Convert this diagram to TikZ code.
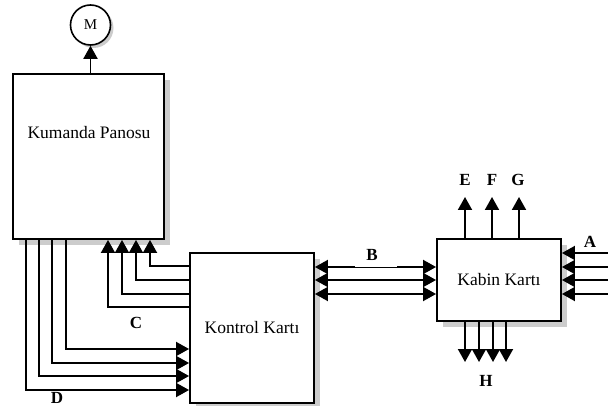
\documentclass[tikz,border=0pt]{standalone}
\usepackage{fontspec}
\setmainfont{Liberation Serif}
\usetikzlibrary{arrows.meta}
\tikzset{tri/.tip={Triangle[length=13pt,width=14pt]}}
\begin{document}
\begin{tikzpicture}[x=1pt,y=-1pt,
  box/.style={draw,line width=1.9pt,fill=white,inner sep=0pt,font=\fontsize{17.5}{20}\selectfont},
  shade/.style={fill=gray!40,draw=none},
  wire/.style={line width=1.9pt},
  lbl/.style={font=\fontsize{17}{20}\selectfont\bfseries,inner sep=0pt}]
\useasboundingbox (0,0) rectangle (608,406);
% shadows
\fill[shade] (19,80) rectangle (170,245);
\fill[shade] (196,259) rectangle (320,409);
\fill[shade] (443,245) rectangle (567,327);
\fill[shade] (93.5,28) circle (20pt);
% boxes
\node[box,minimum width=151pt,minimum height=165pt] (kp) at (88.5,156.5) {};
\node[font=\fontsize{17.5}{20}\selectfont] (kpt) at (89,133) {Kumanda Panosu};
\node[box,minimum width=124pt,minimum height=150pt] (kk) at (252,328) {Kontrol Kartı};
\node[box,minimum width=124pt,minimum height=82pt] (kb) at (499,280) {Kabin Kartı};
\node[draw,circle,line width=1.6pt,fill=white,minimum size=40pt,inner sep=0pt,font=\fontsize{15}{17}\selectfont] (m) at (90.5,25) {M};
% motor
\draw[wire,-tri] (kp.north -| m.south) -- (m.south);
% D
\foreach \dx/\yy in {14/390,27/376,40/363,54/349}
  \draw[wire,-tri] ([xshift=\dx pt]kp.south west) |- (kk.west |- 0,\yy);
% C
\foreach \yy/\xx in {266/150,280/136,294/122,307/108}
  \draw[wire,-tri] (kk.west |- 0,\yy) -| (\xx,0 |- kp.south);
% B
\foreach \yy in {267,280,294}
  \draw[wire,tri-tri] (kk.east |- 0,\yy) -- (kb.west |- 0,\yy);
\draw[white,line width=2.1pt] (355,267) -- (397,267);
\draw[line width=0.7pt] (355,267.6) -- (397,267.6);
% A
\foreach \i/\yy in {1/253,2/267,3/280,4/294}{
  \coordinate (a\i) at (608,\yy);
  \draw[wire,-tri] (a\i) -- (kb.east |- a\i);
}
% E F G
\foreach \xx in {465,492,519}
  \draw[wire,-tri] (\xx,0 |- kb.north) -- (\xx,197);
% H
\foreach \xx in {465,479,493,506}
  \draw[wire,-tri] (\xx,0 |- kb.south) -- (\xx,362);
% labels
\node[lbl] (le) at (465,180) {E};
\node[lbl] (lf) at (492,180) {F};
\node[lbl] (lg) at (518,180) {G};
\node[lbl] (lh) at (486,381) {H};
\node[lbl] (la) at (590,242) {A};
\node[lbl] (lb) at (372,255) {B};
\node[lbl] (lc) at (136,323) {C};
\node[lbl] (ld) at (57,398) {D};
\end{tikzpicture}
\end{document}
